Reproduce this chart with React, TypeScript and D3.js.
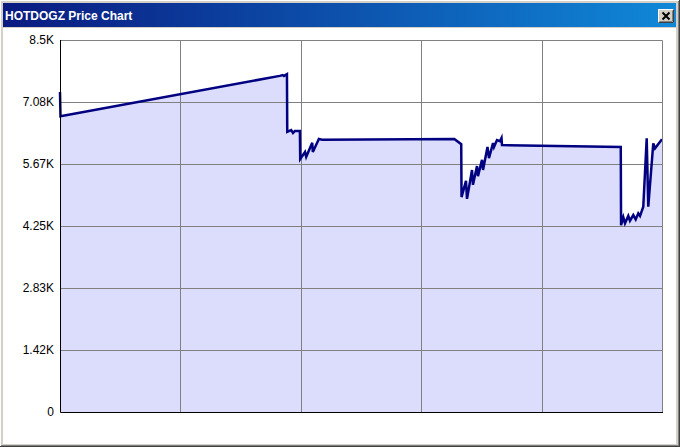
import * as d3 from "d3";
import React, { RefObject, useEffect, useRef } from "react";

// time in arbitrary units (0..100 across the plot), prices in dollars
const days = [
  0, 0.08, 36.5, 37.0, 37.2, 37.7, 37.75, 38.4, 38.7, 39.0, 39.85, 39.9, 40.7,
  40.9, 41.9, 42.0, 43.0, 43.5, 65.5, 66.65, 66.7, 67.44, 67.61, 68.44, 68.6,
  69.27, 69.43, 70.1, 70.27, 71.01, 71.26, 71.93, 72.09, 72.59, 73.09, 73.34,
  73.42, 93.15, 93.2, 93.57, 93.85, 94.4, 94.68, 95.23, 95.63, 96.06, 96.35,
  96.89, 97.46, 97.72, 98.55, 98.84, 100,
];
const prices = [
  7310, 6760, 7680, 7700, 7680, 7720, 6400, 6440, 6375, 6420, 6420, 5780, 5940,
  5830, 6150, 5940, 6240, 6220, 6240, 6120, 4910, 5280, 4870, 5530, 5190, 5620,
  5390, 5760, 5530, 6055, 5800, 6145, 6055, 6215, 6190, 6260, 6100, 6055, 4270,
  4450, 4310, 4480, 4370, 4500, 4400, 4540, 4480, 4690, 6255, 4690, 6140, 6025,
  6230,
];
const yTickValues = [0, 1417, 2833, 4250, 5667, 7083, 8500];
const yTickLabels = ["0", "1.42K", "2.83K", "4.25K", "5.67K", "7.08K", "8.5K"];
const xGridDays = [20, 40, 60, 80];
const title = "HOTDOGZ Price Chart";

const W = 680;
const H = 447;

const App = () => {
  const ref: RefObject<SVGSVGElement> = useRef(null);

  useEffect(() => {
    const svg = d3.select(ref.current);
    svg.selectAll("*").remove();

    const left = 60;
    const right = 662;
    const top = 40;
    const bottom = 412;

    const x = d3.scaleLinear().domain([0, 100]).range([left, right]);
    const y = d3.scaleLinear().domain([0, 8500]).range([bottom, top]);

    // window frame
    svg.append("rect").attr("width", W).attr("height", H).attr("fill", "#d4d0c8");
    svg.append("line").attr("x1", 0).attr("y1", 0.5).attr("x2", W).attr("y2", 0.5).attr("stroke", "#ffffff");
    svg.append("line").attr("x1", 0.5).attr("y1", 0).attr("x2", 0.5).attr("y2", H).attr("stroke", "#ffffff");
    svg.append("line").attr("x1", W - 0.5).attr("y1", 0).attr("x2", W - 0.5).attr("y2", H).attr("stroke", "#404040");
    svg.append("line").attr("x1", W - 1.5).attr("y1", 1).attr("x2", W - 1.5).attr("y2", H - 1).attr("stroke", "#808080");
    svg.append("line").attr("x1", 0).attr("y1", H - 0.5).attr("x2", W).attr("y2", H - 0.5).attr("stroke", "#404040");
    svg.append("line").attr("x1", 1).attr("y1", H - 1.5).attr("x2", W - 1).attr("y2", H - 1.5).attr("stroke", "#808080");

    const grad = svg
      .append("defs")
      .append("linearGradient")
      .attr("id", "titleGrad")
      .attr("x1", "0%")
      .attr("x2", "100%");
    grad.append("stop").attr("offset", "0%").attr("stop-color", "#0a1a80");
    grad.append("stop").attr("offset", "100%").attr("stop-color", "#1088d8");

    svg.append("rect").attr("x", 3).attr("y", 3).attr("width", W - 7).attr("height", 24).attr("fill", "url(#titleGrad)");
    svg
      .append("text")
      .attr("x", 5)
      .attr("y", 20)
      .attr("fill", "#ffffff")
      .attr("font-family", "Liberation Sans, Arial, sans-serif")
      .attr("font-weight", "bold")
      .attr("font-size", 12)
      .text(title);

    // close button
    const btn = svg.append("g").attr("transform", "translate(658,9)");
    btn.append("rect").attr("width", 16).attr("height", 14).attr("fill", "#d4d0c8");
    btn.append("path").attr("d", "M0.5,13.5V0.5H15.5").attr("fill", "none").attr("stroke", "#ffffff");
    btn.append("path").attr("d", "M0.5,13.5H15.5V0.5").attr("fill", "none").attr("stroke", "#404040");
    btn.append("path").attr("d", "M1.5,12.5H14.5V1.5").attr("fill", "none").attr("stroke", "#808080");
    btn
      .append("path")
      .attr("d", "M4.5,3.5L11.5,10.5M11.5,3.5L4.5,10.5")
      .attr("stroke", "#000000")
      .attr("stroke-width", 2);

    // client area
    svg.append("rect").attr("x", 3).attr("y", 28).attr("width", W - 7).attr("height", H - 31).attr("fill", "#ffffff");

    // area + line
    const pts: [number, number][] = days.map((d, i) => [d, prices[i]]);
    svg
      .append("path")
      .datum(pts)
      .attr("fill", "#dcdcfc")
      .attr(
        "d",
        d3
          .area<[number, number]>()
          .x((d) => x(d[0]))
          .y0(y(0))
          .y1((d) => y(d[1]))
      );

    // grid
    yTickValues.slice(1, -1).forEach((v) => {
      svg
        .append("line")
        .attr("x1", left)
        .attr("x2", right)
        .attr("y1", Math.round(y(v)) + 0.5)
        .attr("y2", Math.round(y(v)) + 0.5)
        .attr("stroke", "#808080");
    });
    xGridDays.forEach((d) => {
      svg
        .append("line")
        .attr("x1", Math.round(x(d)) + 0.5)
        .attr("x2", Math.round(x(d)) + 0.5)
        .attr("y1", top)
        .attr("y2", bottom)
        .attr("stroke", "#808080");
    });

    svg
      .append("path")
      .datum(pts)
      .attr("fill", "none")
      .attr("stroke", "#000080")
      .attr("stroke-width", 2.5)
      .attr("stroke-linejoin", "miter")
      .attr(
        "d",
        d3
          .line<[number, number]>()
          .x((d) => x(d[0]))
          .y((d) => y(d[1]))
      );

    // plot border
    svg
      .append("path")
      .attr("d", `M${left + 0.5},${top + 0.5}H${right + 0.5}V${bottom + 0.5}`)
      .attr("fill", "none")
      .attr("stroke", "#808080");
    svg
      .append("path")
      .attr("d", `M${left + 0.5},${top}V${bottom + 0.5}H${right + 1}`)
      .attr("fill", "none")
      .attr("stroke", "#000000");

    // y labels
    svg
      .append("g")
      .selectAll("text")
      .data(yTickValues)
      .enter()
      .append("text")
      .attr("x", 54)
      .attr("y", (d) => y(d))
      .attr("dy", "0.35em")
      .attr("text-anchor", "end")
      .attr("font-family", "Liberation Sans, Arial, sans-serif")
      .attr("font-size", 12)
      .attr("fill", "#000000")
      .text((d, i) => yTickLabels[i]);
  }, [ref]);

  return (
    <svg
      ref={ref}
      width={W}
      height={H}
      style={{ position: "absolute", left: 0, top: 0, display: "block" }}
    />
  );
};

export default App;
